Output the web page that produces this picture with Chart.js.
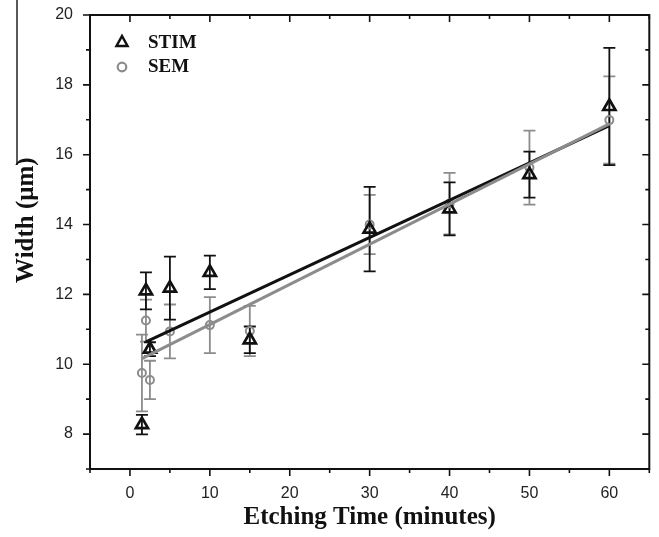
<!DOCTYPE html>
<html>
<head>
<meta charset="utf-8">
<script src="https://cdn.jsdelivr.net/npm/chart.js@4.4.1/dist/chart.umd.min.js"></script>
<style>
    body { margin: 0; background: #fff; }
</style>
</head>
<body>
<canvas id="widthGraph" width="659" height="537"></canvas>
<script>
// etching times (minutes)
const etchTimes = [1.5, 2, 2.5, 5, 10, 15, 30, 40, 50, 60];

// measured widths (um) with error bars
const stimWidths = [8.27, 12.1, 10.43, 12.18, 12.63, 10.7, 13.87, 14.45, 15.43, 17.38];
const stimErrors = [0.28, 0.53, 0.2, 0.9, 0.48, 0.38, 1.21, 0.76, 0.66, 1.68];
const semWidths = [9.75, 11.25, 9.55, 10.94, 11.12, 10.95, 14.0, 14.6, 15.63, 16.99];
const semErrors = [1.1, 0.6, 0.55, 0.77, 0.8, 0.72, 0.85, 0.88, 1.06, 1.25];

// linear fits (end points)
const stimFitTimes = [2, 60];
const stimFitWidths = [10.64, 16.83];
const semFitTimes = [1.5, 60];
const semFitWidths = [10.16, 16.88];

// tick labels
const xTickLabels = [0, 10, 20, 30, 40, 50, 60];
const yTickLabels = [8, 10, 12, 14, 16, 18, 20];

const STIM_COLOR = '#111111';
const SEM_COLOR = '#8c8c8c';
const tickFont = { family: 'Liberation Sans', size: 16 };
const titleFont = { family: 'Liberation Serif', size: 25, weight: 'bold' };

function to_points(xs, ys) {
    return xs.map((x, i) => ({ x: x, y: ys[i] }));
}

// draws vertical error bars with caps under the markers
const errorBars = {
    id: 'errorBars',
    beforeDatasetsDraw(chart) {
        const { ctx, scales: { y } } = chart;
        chart.data.datasets.forEach((ds, i) => {
            if (!ds.errors) return;
            const meta = chart.getDatasetMeta(i);
            ctx.save();
            ctx.strokeStyle = ds.borderColor;
            ctx.lineWidth = 1.8;
            meta.data.forEach((pt, j) => {
                const v = ds.data[j].y;
                const e = ds.errors[j];
                const top = y.getPixelForValue(v + e);
                const bot = y.getPixelForValue(v - e);
                ctx.beginPath();
                ctx.moveTo(pt.x, top); ctx.lineTo(pt.x, bot);
                ctx.moveTo(pt.x - 6, top); ctx.lineTo(pt.x + 6, top);
                ctx.moveTo(pt.x - 6, bot); ctx.lineTo(pt.x + 6, bot);
                ctx.stroke();
            });
            ctx.restore();
        });
    }
};

// box frame with minor / major tick marks (outward bottom/left, inward top/right)
const frameTicks = {
    id: 'frameTicks',
    beforeDraw(chart) {
        const ctx = chart.ctx;
        ctx.save();
        ctx.strokeStyle = '#222';
        ctx.lineWidth = 1.5;
        ctx.beginPath();
        ctx.moveTo(17, 0); ctx.lineTo(17, 165);
        ctx.stroke();
        ctx.restore();
    },
    afterDraw(chart) {
        const { ctx, chartArea: a, scales: { x, y } } = chart;
        ctx.save();
        ctx.strokeStyle = '#111';
        ctx.lineWidth = 2;
        ctx.strokeRect(a.left, a.top, a.right - a.left, a.bottom - a.top);
        ctx.lineWidth = 1.6;
        ctx.beginPath();
        for (let v = x.min; v <= x.max; v += 5) {
            const px = x.getPixelForValue(v);
            const len = v % 10 === 0 ? 7 : 4;
            ctx.moveTo(px, a.bottom); ctx.lineTo(px, a.bottom + len);
            ctx.moveTo(px, a.top); ctx.lineTo(px, a.top + len);
        }
        for (let v = y.min; v <= y.max; v += 1) {
            const py = y.getPixelForValue(v);
            const len = v % 2 === 0 ? 7 : 4;
            ctx.moveTo(a.left - len, py); ctx.lineTo(a.left, py);
            ctx.moveTo(a.right - len, py); ctx.lineTo(a.right, py);
        }
        ctx.stroke();
        ctx.restore();
    }
};

// legend in the upper left corner of the plot
const cornerLegend = {
    id: 'cornerLegend',
    afterDraw(chart) {
        const ctx = chart.ctx;
        ctx.save();
        // triangle
        ctx.strokeStyle = STIM_COLOR;
        ctx.lineWidth = 2.5;
        ctx.beginPath();
        ctx.moveTo(122, 36); ctx.lineTo(127.5, 46); ctx.lineTo(116.5, 46); ctx.closePath();
        ctx.stroke();
        // circle
        ctx.strokeStyle = SEM_COLOR;
        ctx.lineWidth = 2.2;
        ctx.beginPath();
        ctx.arc(122, 67, 4.3, 0, Math.PI * 2);
        ctx.stroke();
        ctx.fillStyle = '#111';
        ctx.font = 'bold 19px "Liberation Serif"';
        ctx.textBaseline = 'middle';
        ctx.fillText('STIM', 148, 43);
        ctx.fillText('SEM', 148, 67);
        ctx.restore();
    }
};

const config = {
    type: 'scatter',
    data: {
        datasets: [
            {
                label: 'SEM',
                data: to_points(etchTimes, semWidths),
                errors: semErrors,
                borderColor: SEM_COLOR,
                backgroundColor: 'rgba(0,0,0,0)',
                pointStyle: 'circle',
                pointRadius: 4,
                borderWidth: 2,
                order: 2
            },
            {
                label: 'STIM',
                data: to_points(etchTimes, stimWidths),
                errors: stimErrors,
                borderColor: STIM_COLOR,
                backgroundColor: 'rgba(0,0,0,0)',
                pointStyle: 'triangle',
                pointRadius: 7,
                borderWidth: 2.7,
                order: 1
            },
            {
                label: 'SEM fit',
                data: to_points(semFitTimes, semFitWidths),
                showLine: true,
                borderColor: SEM_COLOR,
                borderWidth: 3,
                pointRadius: 0,
                order: 0
            },
            {
                label: 'STIM fit',
                data: to_points(stimFitTimes, stimFitWidths),
                showLine: true,
                borderColor: STIM_COLOR,
                borderWidth: 3,
                pointRadius: 0,
                order: 0
            }
        ]
    },
    options: {
        responsive: false,
        animation: false,
        layout: { padding: { top: 15, right: 8, left: 0, bottom: 0 } },
        plugins: {
            legend: { display: false },
            tooltip: { enabled: false }
        },
        scales: {
            x: {
                type: 'linear',
                min: -5,
                max: 65,
                grid: { display: false, drawTicks: false },
                border: { display: false },
                ticks: {
                    stepSize: 5,
                    autoSkip: false,
                    maxRotation: 0,
                    padding: 15,
                    color: '#222',
                    font: tickFont,
                    callback: (v) => xTickLabels.includes(v) ? v : ''
                },
                title: {
                    display: true,
                    text: 'Etching Time (minutes)',
                    color: '#111',
                    font: titleFont,
                    padding: { top: 0, bottom: 4 }
                },
                afterFit: (scale) => {
                    scale.height = 68;
                    scale.paddingLeft = 0;
                    scale.paddingRight = 0;
                }
            },
            y: {
                type: 'linear',
                min: 7,
                max: 20,
                grid: { display: false, drawTicks: false },
                border: { display: false },
                ticks: {
                    stepSize: 1,
                    autoSkip: false,
                    padding: 17,
                    color: '#222',
                    font: tickFont,
                    callback: (v) => yTickLabels.includes(v) ? v : ''
                },
                title: {
                    display: true,
                    // leading spaces push the label a bit above the middle, like the original
                    text: '       Width (μm)',
                    color: '#111',
                    font: titleFont,
                    padding: { top: 12, bottom: 0 }
                },
                afterFit: (scale) => {
                    scale.width = 90;
                    scale.paddingTop = 0;
                    scale.paddingBottom = 0;
                }
            }
        }
    },
    plugins: [errorBars, frameTicks, cornerLegend]
};

const widthGraph = new Chart('widthGraph', config);
</script>
</body>
</html>
